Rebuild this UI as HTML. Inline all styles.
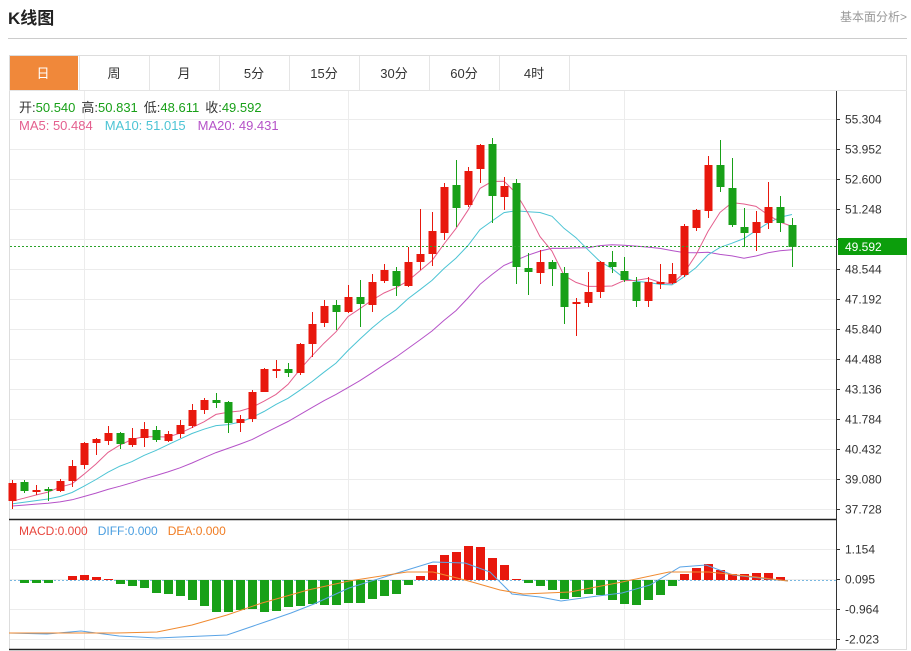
<!DOCTYPE html>
<html><head><meta charset="utf-8"><style>
body{margin:0;background:#fff;}
svg{display:block;font-family:"Liberation Sans","Noto Sans CJK SC",sans-serif;}
</style></head><body>
<svg id="s" width="911" height="651" xmlns="http://www.w3.org/2000/svg">
<text x="8" y="24" font-size="17" font-weight="bold" fill="#222">K线图</text>
<text x="907" y="21" font-size="12" fill="#999" text-anchor="end">基本面分析&gt;</text>
<line x1="8" y1="38.5" x2="907" y2="38.5" stroke="#ccc"/>
<rect x="9.5" y="55.5" width="897" height="594" fill="none" stroke="#ddd"/>
<line x1="9" y1="90.5" x2="907" y2="90.5" stroke="#e5e5e5"/>
<rect x="10" y="56" width="68" height="34" fill="#f0883a"/>
<g id="g"></g>
</svg>
<script>
var s=document.getElementById('g'),h='';
function L(x1,y1,x2,y2,c,w,d){h+='<line x1="'+x1+'" y1="'+y1+'" x2="'+x2+'" y2="'+y2+'" stroke="'+c+'" stroke-width="'+(w||1)+'"'+(d?' stroke-dasharray="'+d+'"':'')+'/>';}
function T(x,y,t,c,sz,a){h+='<text x="'+x+'" y="'+y+'" font-size="'+(sz||12)+'" fill="'+c+'"'+(a?' text-anchor="'+a+'"':'')+'>'+t+'</text>';}
var tabs=['日','周','月','5分','15分','30分','60分','4时'];
for(var i=0;i<8;i++){var x0=9+70*i;L(x0+70.5,56,x0+70.5,90,'#e5e5e5');T(x0+35+(i==0?-1:0),78,tabs[i],i==0?'#fff':'#333',13,'middle');}
// grid
var lab=['55.304','53.952','52.600','51.248','49.896','48.544','47.192','45.840','44.488','43.136','41.784','40.432','39.080','37.728'];
for(var i=0;i<14;i++){var y=119.5+30*i;L(10,y,836,y,'#ececec');L(836,y,840,y,'#333');if(i!=4)T(845,y+4,lab[i],'#333',12);}
[84.5,348.5,624.5].forEach(function(x){L(x,91,x,649,'#ececec');});
var ml=['1.154','0.095','-0.964','-2.023'];
for(var i=0;i<4;i++){var y=549.5+30*i;L(10,y,836,y,'#ececec');L(836,y,840,y,'#333');T(845,y+4,ml[i],'#333',12);}
// candles: [open?] given as [bodyTop,bodyBot,wickTop,wickBot,up(red)]
var C=[[483,501,480,509,1],[482,491,480,493,0],[490,492,485,495,1],[489,491,487,501,0],[481,491,479,492,1],[466,481,460,487,1],[443,465,442,469,1],[439,443,438,455,1],[433,441,426,445,1],[433,444,432,449,0],[438,445,428,447,1],[429,438,422,447,1],[430,440,426,442,0],[434,441,431,442,1],[425,434,420,438,1],[410,426,404,428,1],[400,410,398,414,1],[400,403,393,408,0],[402,423,401,433,0],[419,423,415,432,1],[392,419,390,422,1],[369,392,368,392,1],[369,371,360,378,1],[369,373,363,377,0],[344,373,343,375,1],[324,344,312,357,1],[306,323,300,327,1],[305,312,300,330,0],[297,312,285,313,1],[297,304,280,327,0],[282,305,274,312,1],[270,281,264,283,1],[271,286,267,296,0],[262,286,247,287,1],[254,262,209,270,1],[231,254,212,266,1],[187,233,183,240,1],[185,208,160,227,0],[171,205,167,207,1],[145,169,144,183,1],[144,196,138,223,0],[186,197,177,210,1],[183,267,179,284,0],[268,272,253,295,0],[262,273,250,284,1],[262,269,260,286,0],[273,307,267,324,0],[302,304,298,336,1],[292,303,272,307,1],[262,292,261,298,1],[262,267,251,273,0],[271,280,257,282,0],[282,301,277,307,0],[282,301,277,307,1],[282,284,264,289,1],[274,283,263,284,1],[226,275,224,277,1],[210,228,209,231,1],[165,211,156,218,1],[165,187,140,192,0],[188,225,158,227,0],[227,233,208,247,0],[222,233,211,251,1],[207,223,182,229,1],[207,223,196,232,0],[225,247,218,267,0]];
var R='#e8180d',G='#18a018';
function X(i){return 12+12*i;}
// MAs
var cl=[];for(var i=0;i<19;i++)cl.push(509-i*0.2);
C.forEach(function(c){cl.push(c[4]?c[0]:c[1]);});
function ma(n){var p=[];for(var i=0;i<C.length;i++){var k=i+19,sm=0;for(var j=0;j<n;j++)sm+=cl[k-j];p.push(X(i)+','+(sm/n).toFixed(1));}return p.join(' ');}
h+='<polyline fill="none" stroke="#b552c8" stroke-width="1" points="'+ma(20)+'"/>';
h+='<polyline fill="none" stroke="#4cc4d4" stroke-width="1" points="'+ma(10)+'"/>';
h+='<polyline fill="none" stroke="#e45f8e" stroke-width="1" points="'+ma(5)+'"/>';
C.forEach(function(c,i){var x=X(i),col=c[4]?R:G;L(x+0.5,c[2],x+0.5,c[3],col);var bh=Math.max(c[1]-c[0],2);h+='<rect x="'+(x-3.5)+'" y="'+c[0]+'" width="8" height="'+bh+'" fill="'+col+'"/>';});
L(10,246.5,836,246.5,'#2aa22a',1,'2,2');
h+='<rect x="838" y="238" width="69" height="17" fill="#0c9e0c"/>';
T(845,251,'49.592','#fff',12);
L(836.5,91,836.5,649,'#333');
L(9,519.5,836,519.5,'#222',1.5);
L(9,649.5,836,649.5,'#222',1.5);
// legend
h+='<text x="19" y="112" font-size="13"><tspan fill="#333">开:</tspan><tspan fill="#18a018">50.540</tspan><tspan fill="#333" dx="6">高:</tspan><tspan fill="#18a018">50.831</tspan><tspan fill="#333" dx="6">低:</tspan><tspan fill="#18a018">48.611</tspan><tspan fill="#333" dx="6">收:</tspan><tspan fill="#18a018">49.592</tspan></text>';
h+='<text x="19" y="130" font-size="13"><tspan fill="#e45f8e">MA5: 50.484</tspan><tspan fill="#4cc4d4" dx="12">MA10: 51.015</tspan><tspan fill="#b552c8" dx="12">MA20: 49.431</tspan></text>';
h+='<text x="19" y="535" font-size="12"><tspan fill="#e8453c">MACD:0.000</tspan><tspan fill="#4a9ee0" dx="10">DIFF:0.000</tspan><tspan fill="#f07c22" dx="10">DEA:0.000</tspan></text>';
// MACD
L(10,580.5,836,580.5,'#7ab8e0',1,'2,2');
var M={1:-3,2:-3,3:-3,5:4,6:5,7:3,8:1,9:-4,10:-6,11:-8,12:-13,13:-14,14:-16,15:-20,16:-26,17:-32,18:-32,19:-30,20:-29,21:-32,22:-31,23:-27,24:-26,25:-24,26:-25,27:-25,28:-23,29:-23,30:-19,31:-16,32:-14,33:-5,34:4,35:15,36:25,37:28,38:34,39:33,40:22,41:15,42:1,43:-3,44:-6,45:-10,46:-19,47:-17,48:-14,49:-15,50:-20,51:-24,52:-25,53:-20,54:-15,55:-6,56:6,57:12,58:16,59:10,60:6,61:6,62:7,63:7,64:3};
for(var k in M){var v=M[k],x=X(+k);h+='<rect x="'+(x-4)+'" y="'+(v>0?580-v:580)+'" width="9" height="'+Math.abs(v)+'" fill="'+(v>0?R:G)+'"/>';}
h+='<polyline fill="none" stroke="#5aa4e6" stroke-width="1" points="9,633 47,634 81,631 119,636 157,638 227,635 265,622 291,613 314,604 349,588 407,570 433,562 465,563 490,572 512,594 540,597 561,601 590,597 622,593 650,585 680,567 706,565 733,575 760,578 788,581"/>';
h+='<polyline fill="none" stroke="#f08a30" stroke-width="1" points="9,633 116,633 157,632 192,625 227,615 262,603 308,590 349,581 407,572 433,572 465,580 500,590 523,594 570,592 622,582 669,572 709,572 756,577 788,581"/>';
s.innerHTML=h;
</script>
</body></html>
